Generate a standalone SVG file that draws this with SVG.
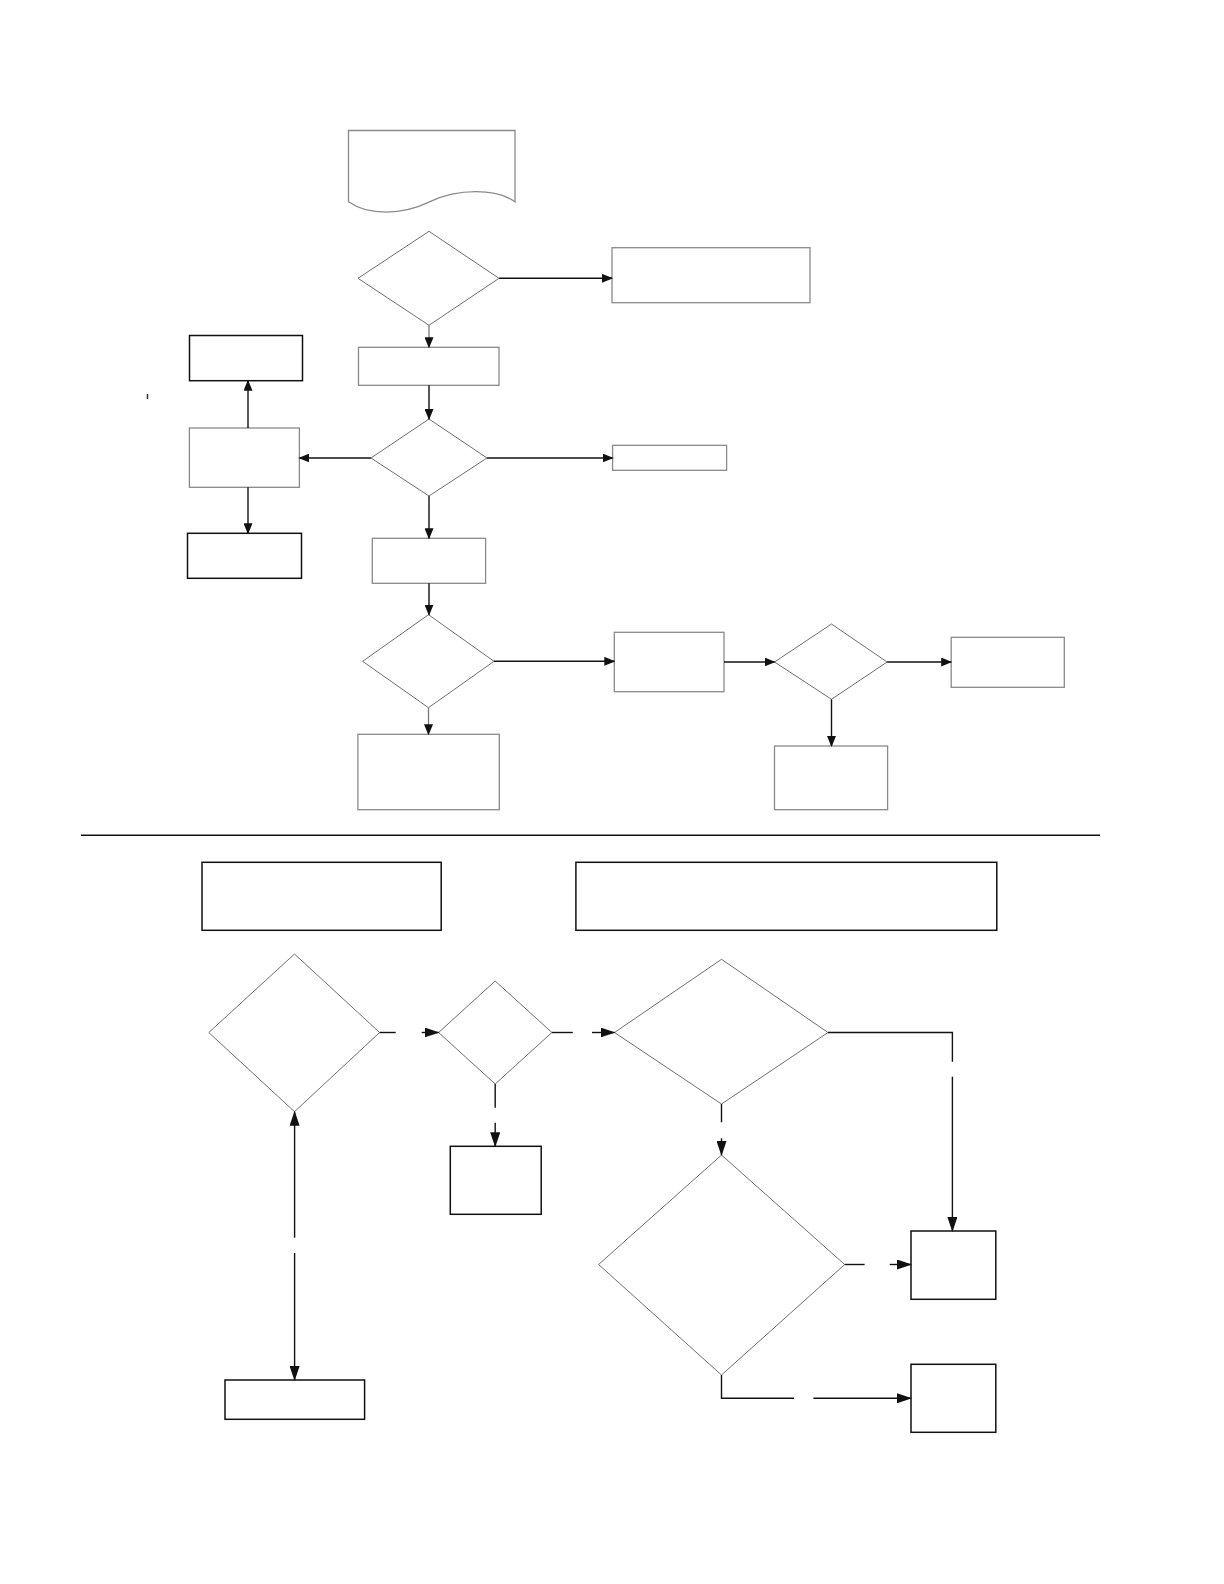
<svg xmlns="http://www.w3.org/2000/svg" width="1224" height="1584" viewBox="0 0 1224 1584">
<defs>
<style>
.bg{fill:#ffffff}
.gbox{fill:#ffffff;stroke:#8a8a8a;stroke-width:1.3}
.kbox{fill:#ffffff;stroke:#111111;stroke-width:1.5}
.dia{fill:#ffffff;stroke:#6e6e6e;stroke-width:1}
.ln{fill:none;stroke:#111111;stroke-width:1.4}
.lg{fill:none;stroke:#777777;stroke-width:1.3}
</style>
<marker id="a" markerUnits="userSpaceOnUse" markerWidth="11" markerHeight="9" refX="10" refY="4.5" orient="auto"><path d="M0,0 L11,4.5 L0,9 z" fill="#111"/></marker>
<marker id="b" markerUnits="userSpaceOnUse" markerWidth="15" markerHeight="10" refX="14" refY="5" orient="auto"><path d="M0,0 L15,5 L0,10 z" fill="#111"/></marker>
</defs>
<rect class="bg" x="0" y="0" width="1224" height="1584"/>
<g id="doc1"><path class="gbox" d="M348.5,130.5 L515,130.5 L515,201.7 C496,188.4 458,188.4 430,201.7 C402,215.5 368,215.5 348.5,201.7 Z"/></g>
<g id="d1"><polygon class="dia" points="429,231.3 499,278.3 429,325.3 358,278.3"/></g>
<g id="r1"><rect class="gbox" x="612" y="247.7" width="198" height="55"/></g>
<g id="r2"><rect class="gbox" x="358.5" y="347.3" width="140.5" height="38"/></g>
<g id="d2"><polygon class="dia" points="429,419 487,458 429,496 371,458"/></g>
<g id="b1"><rect class="kbox" x="189.5" y="335.5" width="113" height="45.2"/></g>
<g id="b2"><rect class="gbox" x="189.4" y="428" width="110" height="59.3"/></g>
<g id="b3"><rect class="kbox" x="187.5" y="533.3" width="114" height="45"/></g>
<g id="r3"><rect class="gbox" x="612.6" y="445.3" width="114" height="25"/></g>
<g id="r4"><rect class="gbox" x="372.3" y="538.3" width="113.3" height="45"/></g>
<g id="d3"><polygon class="dia" points="428.5,614.7 494,661.3 428.5,707.7 362.6,661.3"/></g>
<g id="r5"><rect class="gbox" x="614.3" y="632.3" width="109.7" height="59.4"/></g>
<g id="d4"><polygon class="dia" points="831.5,624 887.1,662 831.5,699.3 774.5,662"/></g>
<g id="r6"><rect class="gbox" x="951.2" y="637.3" width="113.1" height="50"/></g>
<g id="r7"><rect class="gbox" x="774.5" y="746" width="113.1" height="63.7"/></g>
<g id="r8"><rect class="gbox" x="357.9" y="734.3" width="141.4" height="75.4"/></g>
<g id="mark"><line x1="147.5" y1="394" x2="147.5" y2="399" stroke="#333" stroke-width="1.5"/></g>
<g id="sep"><line x1="81" y1="835.3" x2="1100" y2="835.3" stroke="#111" stroke-width="1.4"/></g>
<g id="bl"><rect class="kbox" x="202" y="862.3" width="239.2" height="68"/></g>
<g id="br"><rect class="kbox" x="575.9" y="862.3" width="420.9" height="68"/></g>
<g id="e1"><polygon class="dia" points="294.5,954 379.6,1032.5 294.5,1111.7 208.8,1032.5"/></g>
<g id="e2"><polygon class="dia" points="495.2,981 551.9,1032.5 495.2,1084 438.6,1032.5"/></g>
<g id="e3"><polygon class="dia" points="721.5,959.3 828,1032.5 721.5,1104 614.5,1032.5"/></g>
<g id="e4"><polygon class="dia" points="721.5,1155 844.7,1264.5 721.5,1375 598.6,1264.5"/></g>
<g id="g1"><rect class="kbox" x="450.3" y="1146.3" width="90.9" height="68"/></g>
<g id="f1"><rect class="kbox" x="911" y="1231" width="84.8" height="68.3"/></g>
<g id="f2"><rect class="kbox" x="911" y="1364.3" width="84.8" height="68"/></g>
<g id="h1"><rect class="kbox" x="225" y="1380" width="139.6" height="39.3"/></g>
<g id="connectors">
<line class="ln" x1="499" y1="278.3" x2="612" y2="278.3" marker-end="url(#a)"/>
<line class="lg" x1="429" y1="325.3" x2="429" y2="347.3" marker-end="url(#a)"/>
<line class="ln" x1="429" y1="385.3" x2="429" y2="419" marker-end="url(#a)"/>
<line class="ln" x1="371" y1="458" x2="299.4" y2="458" marker-end="url(#a)"/>
<line class="ln" x1="487" y1="458" x2="612.6" y2="458" marker-end="url(#a)"/>
<line class="ln" x1="248" y1="428" x2="248" y2="380.7" marker-end="url(#a)"/>
<line class="ln" x1="248" y1="487.3" x2="248" y2="533.3" marker-end="url(#a)"/>
<line class="ln" x1="429" y1="496" x2="429" y2="538.3" marker-end="url(#a)"/>
<line class="ln" x1="429" y1="583.3" x2="429" y2="614.7" marker-end="url(#a)"/>
<line class="ln" x1="494" y1="661.3" x2="614.3" y2="661.3" marker-end="url(#a)"/>
<line class="lg" x1="428.5" y1="707.7" x2="428.5" y2="734.3" marker-end="url(#a)"/>
<line class="ln" x1="724" y1="662" x2="774.5" y2="662" marker-end="url(#a)"/>
<line class="ln" x1="887.1" y1="662" x2="951.2" y2="662" marker-end="url(#a)"/>
<line class="ln" x1="831.5" y1="699.3" x2="831.5" y2="746" marker-end="url(#a)"/>
<line class="ln" x1="379.6" y1="1032.5" x2="395.7" y2="1032.5"/>
<line class="ln" x1="421.7" y1="1032.5" x2="438.6" y2="1032.5" marker-end="url(#b)"/>
<line class="ln" x1="551.9" y1="1032.5" x2="572.8" y2="1032.5"/>
<line class="ln" x1="592" y1="1032.5" x2="614.5" y2="1032.5" marker-end="url(#b)"/>
<polyline class="ln" points="828,1032.5 952.4,1032.5 952.4,1061.7"/>
<line class="ln" x1="952.4" y1="1076.7" x2="952.4" y2="1231" marker-end="url(#b)"/>
<line class="ln" x1="495.2" y1="1084" x2="495.2" y2="1107.7"/>
<line class="ln" x1="495.2" y1="1122.7" x2="495.2" y2="1146.3" marker-end="url(#b)"/>
<line class="ln" x1="721.5" y1="1104" x2="721.5" y2="1122.3"/>
<line class="ln" x1="721.5" y1="1138.3" x2="721.5" y2="1155" marker-end="url(#b)"/>
<line class="ln" x1="844.7" y1="1264.5" x2="864.6" y2="1264.5"/>
<line class="ln" x1="889.7" y1="1264.5" x2="911" y2="1264.5" marker-end="url(#b)"/>
<polyline class="ln" points="721.5,1375 721.5,1398.3 794,1398.3"/>
<line class="ln" x1="813.4" y1="1398.3" x2="911" y2="1398.3" marker-end="url(#b)"/>
<line class="ln" x1="294.6" y1="1237.7" x2="294.6" y2="1111.7" marker-end="url(#b)"/>
<line class="ln" x1="294.6" y1="1253" x2="294.6" y2="1380" marker-end="url(#b)"/>
</g>
</svg>
